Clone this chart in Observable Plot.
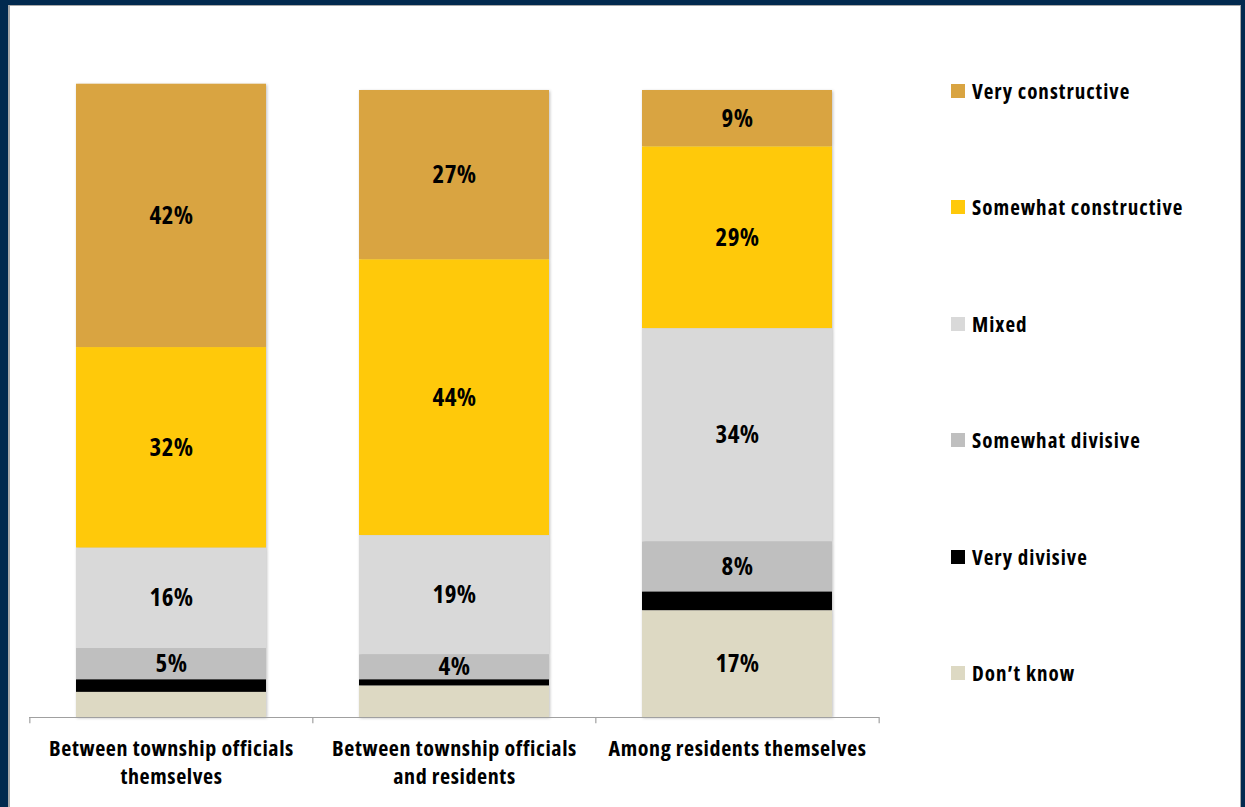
<!DOCTYPE html>
<html>
<head>
<meta charset="utf-8">
<script src="https://cdn.jsdelivr.net/npm/d3@7"></script>
<script src="https://cdn.jsdelivr.net/npm/@observablehq/plot@0.6"></script>
<style>
  html, body { margin: 0; padding: 0; background: #fff; }
  #page { position: relative; width: 1245px; height: 807px; overflow: hidden; background: #fff;
    font-family: "Open Sans", sans-serif; font-weight: bold; font-stretch: 75%; }
  #frame { position: absolute; left: 0; top: 0; width: 1245px; height: 820px; box-sizing: border-box;
    border-style: solid; border-color: #022a4f; border-width: 5px 4px 0 8px; }
  #inner { position: absolute; left: 8px; top: 5px; width: 1233px; height: 820px; box-sizing: border-box;
    border-style: solid; border-color: #a9a9a9; border-width: 1.5px 1.5px 0 2px; }
  #chart { position: absolute; left: 0; top: 0; }
  #chart svg text { font-family: "Open Sans", sans-serif; font-stretch: 75%; font-weight: bold; }
  #legend { position: absolute; left: 0; top: 0; }
  .item { position: absolute; display: flex; align-items: center; font-size: 21px; letter-spacing: 1px; color: #000; white-space: nowrap; }
  .sw { width: 14px; height: 14px; margin-right: 7px; }
</style>
</head>
<body>
<div id="page">
  <div id="frame"></div>
  <div id="inner"></div>
  <div id="chart"></div>
  <div id="legend"></div>
</div>
<script>
const categories = ["Between township officials themselves", "Between township officials and residents", "Among residents themselves"];
const categoryLabels = ["Between township officials\nthemselves", "Between township officials\nand residents", "Among residents themselves"];
const responses = ["Very constructive", "Somewhat constructive", "Mixed", "Somewhat divisive", "Very divisive", "Don\u2019t know"];
const colors = ["#d9a441", "#ffc90a", "#d9d9d9", "#bfbfbf", "#000000", "#ddd9c3"];
const veryConstructive = [42, 27, 9];
const somewhatConstructive = [32, 44, 29];
const mixed = [16, 19, 34];
const somewhatDivisive = [5, 4, 8];
const veryDivisive = [2, 1, 3];
const dontKnow = [4, 5, 17];
const labelShown = [[true, true, true], [true, true, true], [true, true, true], [true, true, true], [false, false, false], [false, false, true]];

const series = [veryConstructive, somewhatConstructive, mixed, somewhatDivisive, veryDivisive, dontKnow];
const data = [];
series.forEach((vals, si) => vals.forEach((v, ci) => data.push({
  category: categories[ci], response: responses[si], value: v, show: labelShown[si][ci]
})));
const stackOrder = responses.slice().reverse(); // bottom first

const W = 900, H = 807, ML = 29, MR = 21, MT = 90, MB = 90;
const step = (W - ML - MR) / categories.length;
const boundaries = categories.map((c) => ({c, dx: -step / 2})).concat([{c: categories[categories.length - 1], dx: step / 2}]);

const chart = Plot.plot({
  width: W, height: H,
  marginLeft: ML, marginRight: MR, marginTop: MT, marginBottom: MB,
  style: {fontFamily: '"Open Sans", sans-serif', fontWeight: "bold", background: "transparent", overflow: "visible"},
  x: {domain: categories, paddingInner: 0.33, paddingOuter: 0.165, label: null},
  y: {domain: [0, 100], axis: null},
  color: {domain: responses, range: colors},
  marks: [
    Plot.barY(data, Plot.stackY({x: "category", y: "value", z: "response", fill: "response", order: stackOrder})),
    Plot.text(data, Plot.stackY({x: "category", y: "value", z: "response", order: stackOrder,
      text: d => d.show ? d.value + "%" : "", fontSize: 25, fontWeight: "bold", fill: "#000"})),
    Plot.ruleY([0], {stroke: "#a0a0a0", strokeWidth: 1.2}),
    ...boundaries.map(b => Plot.ruleX([b.c], {x: d => d, y1: 0, y2: -1, dx: b.dx, stroke: "#a0a0a0", strokeWidth: 1.2})),
    Plot.axisX({tickSize: 0, tickPadding: 18, fontSize: 22, fontWeight: "bold", fill: "#000", lineHeight: 1.3,
      tickFormat: d => categoryLabels[categories.indexOf(d)]})
  ]
});
chart.querySelectorAll('g[aria-label="bar"]').forEach(g => g.style.filter = "drop-shadow(1.5px 1.5px 1.5px rgba(0,0,0,0.25))");
chart.querySelectorAll('g[aria-label="x-axis tick label"] text').forEach(t => t.style.letterSpacing = "0.6px");
chart.querySelectorAll('g[aria-label="text"] text').forEach(t => t.style.letterSpacing = "0.4px");
document.getElementById("chart").appendChild(chart);

const legend = document.getElementById("legend");
const legendTop = 91, legendStep = 116.4;
responses.forEach((r, i) => {
  const it = document.createElement("div");
  it.className = "item";
  it.style.left = "951px";
  it.style.top = (legendTop + i * legendStep - 14) + "px";
  it.style.height = "28px";
  const sw = document.createElement("div");
  sw.className = "sw";
  sw.style.background = colors[i];
  const tx = document.createElement("span");
  tx.textContent = r;
  it.appendChild(sw); it.appendChild(tx);
  legend.appendChild(it);
});
</script>
</body>
</html>
